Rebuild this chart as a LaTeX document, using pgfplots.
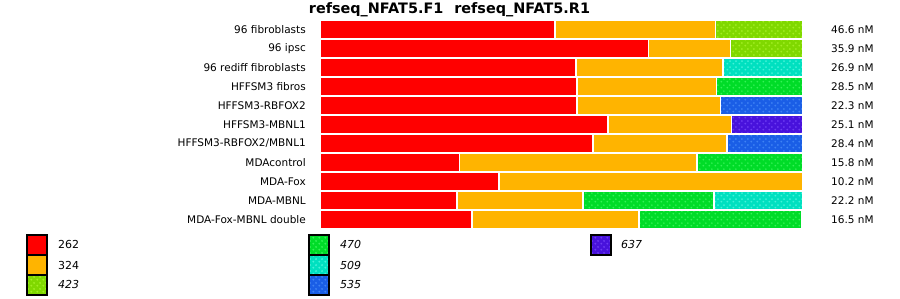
\documentclass[border=0pt]{standalone}
\usepackage{fontspec}
\setmainfont{DejaVu Sans}
\usepackage{pgfplots}
\usepackage{pgfplotstable}
\pgfplotsset{compat=1.18}
\usetikzlibrary{patterns}
\definecolor{c262}{HTML}{FF0000}
\definecolor{c324}{HTML}{FFB400}
\definecolor{c423}{HTML}{80D800}
\definecolor{d423}{HTML}{A2EE22}
\definecolor{c470}{HTML}{00DC28}
\definecolor{d470}{HTML}{34F256}
\definecolor{c509}{HTML}{00E0C0}
\definecolor{d509}{HTML}{44F2D8}
\definecolor{c535}{HTML}{1A5EE6}
\definecolor{d535}{HTML}{3E82F4}
\definecolor{c637}{HTML}{4812DC}
\definecolor{d637}{HTML}{6C3AF2}
\pgfdeclarepatternformonly{bigdots}{\pgfpointorigin}{\pgfpoint{6pt}{6pt}}{\pgfpoint{6pt}{6pt}}{
  \pgfpathcircle{\pgfpoint{1.5pt}{1.5pt}}{1.15pt}
  \pgfpathcircle{\pgfpoint{4.5pt}{4.5pt}}{1.15pt}
  \pgfusepath{fill}}
\pgfplotstableread{
row a262 a324 a423 a470 a509 a535 a637
0 48.6 33.3 18.1 0 0 0 0
1 68.0 17.0 15.0 0 0 0 0
2 53.0 30.4 0 0 16.6 0 0
3 53.2 28.9 0 17.9 0 0 0
4 53.2 29.7 0 0 0 17.1 0
5 59.7 25.5 0 0 0 0 14.8
6 56.5 27.7 0 0 0 15.8 0
7 28.9 49.1 0 22.0 0 0 0
8 37.0 63.0 0 0 0 0 0
9 28.3 26.2 0 27.0 18.5 0 0
10 31.4 34.7 0 33.7 0 0 0
}\datatable
\tikzset{pat/.style={preaction={fill=c#1}, pattern=bigdots, pattern color=d#1}}
\begin{document}
\begin{tikzpicture}[x=1pt,y=1pt]
\path[use as bounding box] (0,0) rectangle (900,299);
\node[anchor=base, font=\fontsize{14.4}{16}\selectfont\bfseries, inner sep=0pt] at (449.5,285.5) {refseq\_NFAT5.F1\hspace{11pt}refseq\_NFAT5.R1};
\begin{axis}[
  at={(320pt,70pt)}, anchor=south west,
  scale only axis, width=483pt, height=209pt,
  xbar stacked, bar width=19pt,
  xmin=0, xmax=100, ymin=-0.5, ymax=10.5, y dir=reverse,
  axis line style={draw=none}, major tick style={draw=none},
  xtick=\empty, ytick={0,...,10},
  yticklabels={96 fibroblasts,96 ipsc,96 rediff fibroblasts,HFFSM3 fibros,HFFSM3-RBFOX2,HFFSM3-MBNL1,HFFSM3-RBFOX2/MBNL1,MDAcontrol,MDA-Fox,MDA-MBNL,MDA-Fox-MBNL double},
  yticklabel style={font=\fontsize{10.5}{12}\selectfont, inner sep=0pt, anchor=east, xshift=-14pt},
  every axis plot/.append style={draw=white, line width=1.8pt},
  clip=false,
]
\addplot[fill=c262] table[x=a262,y=row]{\datatable};
\addplot[fill=c324] table[x=a324,y=row]{\datatable};
\addplot[pat=423] table[x=a423,y=row]{\datatable};
\addplot[pat=470] table[x=a470,y=row]{\datatable};
\addplot[pat=509] table[x=a509,y=row]{\datatable};
\addplot[pat=535] table[x=a535,y=row]{\datatable};
\addplot[pat=637] table[x=a637,y=row]{\datatable};
\foreach \v [count=\i from 0] in {46.6,35.9,26.9,28.5,22.3,25.1,28.4,15.8,10.2,22.2,16.5}{
  \edef\tmp{\noexpand\node[anchor=west, inner sep=0pt, font=\noexpand\fontsize{10.5}{12}\noexpand\selectfont] at (axis cs:100,\i) [xshift=28pt] {\v\ nM};}
  \tmp
}
\end{axis}
% legend
\begin{scope}[every node/.style={anchor=west, inner sep=0pt, font=\fontsize{11}{13}\selectfont}]
\draw[black, line width=1.2pt, fill=c262] (27,44) rectangle (47,64);
\draw[black, line width=1.2pt, fill=c324] (27,24) rectangle (47,44);
\draw[black, line width=1.2pt, pat=423] (27,4) rectangle (47,24);
\node at (58,54) {262};
\node at (58,34) {324};
\node at (58,14) {\itshape 423};
\draw[black, line width=1.2pt, pat=470] (309,44) rectangle (329,64);
\draw[black, line width=1.2pt, pat=509] (309,24) rectangle (329,44);
\draw[black, line width=1.2pt, pat=535] (309,4) rectangle (329,24);
\node at (340,54) {\itshape 470};
\node at (340,34) {\itshape 509};
\node at (340,14) {\itshape 535};
\draw[black, line width=1.2pt, pat=637] (591,44) rectangle (611,64);
\node at (621,54) {\itshape 637};
\end{scope}
\end{tikzpicture}
\end{document}
